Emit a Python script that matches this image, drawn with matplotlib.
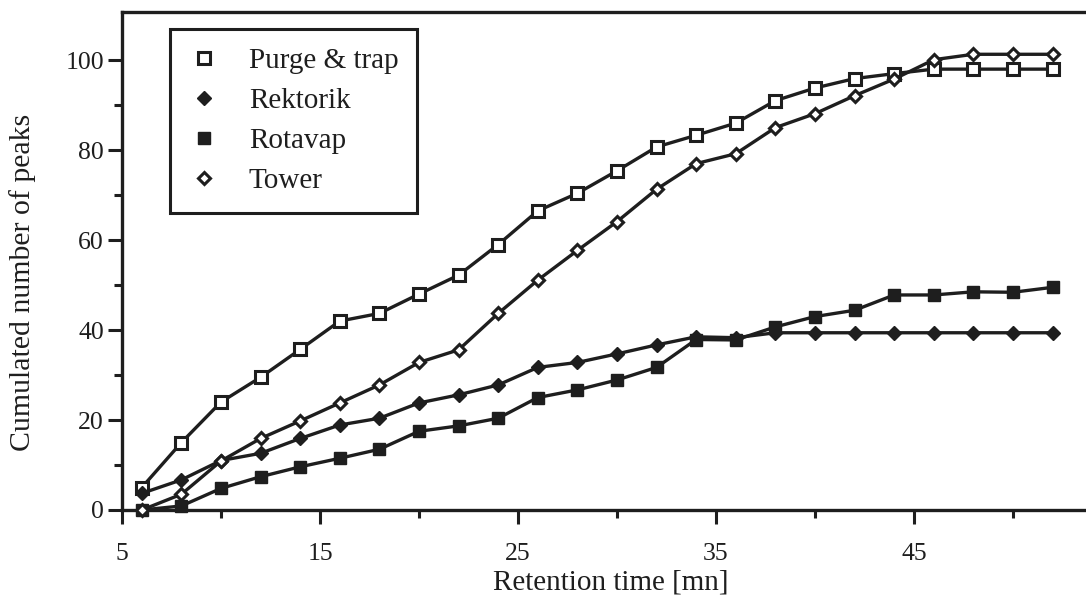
import matplotlib
matplotlib.use('Agg')
import matplotlib.pyplot as plt
from matplotlib.lines import Line2D
from matplotlib.ticker import FixedLocator

# retention time [mn]
times = [6, 8, 10, 12, 14, 16, 18, 20, 22, 24, 26, 28,
         30, 32, 34, 36, 38, 40, 42, 44, 46, 48, 50, 52]

purge_trap = [5, 15, 24, 29.5, 35.7, 42, 43.7, 48, 52.2, 59, 66.5, 70.4,
              75.4, 80.7, 83.3, 86, 91, 93.8, 95.9, 97, 98, 98, 98, 98]
rektorik = [3.7, 6.7, 11, 12.6, 15.9, 18.9, 20.4, 23.8, 25.6, 27.8, 31.7, 32.8,
            34.7, 36.7, 38.5, 38.3, 39.4, 39.4, 39.4, 39.4, 39.4, 39.4, 39.4, 39.4]
rotavap = [0, 0.9, 4.8, 7.4, 9.6, 11.5, 13.5, 17.5, 18.7, 20.4, 25, 26.7,
           28.9, 31.7, 37.9, 37.8, 40.7, 43, 44.4, 47.8, 47.8, 48.5, 48.4, 49.5]
tower = [0, 3.5, 10.9, 15.9, 19.8, 23.8, 27.8, 32.8, 35.6, 43.7, 51.1, 57.7,
         64.1, 71.3, 77, 79.2, 85, 88.1, 92.1, 95.8, 100.1, 101.3, 101.3, 101.3]

series_names = ['Purge & trap', 'Rektorik', 'Rotavap', 'Tower']

plt.rcParams['font.family'] = ['Liberation Serif', 'DejaVu Serif']
ink = '#1e1e1e'

W, H = 1086, 599
fig = plt.figure(figsize=(W / 100, H / 100), dpi=100)
# axes runs a bit past the right edge, like the cropped scan
left, right, bottom, top = 122, 1112, 510, 12
ax = fig.add_axes([left / W, (H - bottom) / H, (right - left) / W, (bottom - top) / H])

styles = [
    dict(marker='s', ms=8, mfc='white', mec=ink, mew=2.2),
    dict(marker='D', ms=7, mfc=ink, mec=ink, mew=1),
    dict(marker='s', ms=9, mfc=ink, mec=ink, mew=1),
    dict(marker='D', ms=6, mfc='white', mec=ink, mew=2.2),
]
data = [purge_trap, rektorik, rotavap, tower]

for vals, st in zip(data, styles):
    ax.plot(times, vals, color=ink, lw=2.4, clip_on=False, zorder=3, **st)

ax.set_xlim(5, 55)
ax.set_ylim(0, 110.7)

ax.set_xticks([5, 15, 25, 35, 45])
ax.xaxis.set_minor_locator(FixedLocator([10, 20, 30, 40, 50]))
ax.set_yticks([0, 20, 40, 60, 80, 100])
ax.yaxis.set_minor_locator(FixedLocator([10, 30, 50, 70, 90]))

ax.tick_params(axis='both', which='major', direction='out', length=10, width=2.2,
               colors=ink, labelsize=18.5)
ax.tick_params(axis='both', which='minor', direction='out', length=6, width=2.2, colors=ink)
ax.tick_params(axis='x', which='major', pad=14)
ax.tick_params(axis='y', which='major', pad=3)

for side in ['left', 'bottom', 'top']:
    ax.spines[side].set_linewidth(2.4)
    ax.spines[side].set_color(ink)
ax.spines['right'].set_visible(False)

ax.set_xlabel('Retention time [mn]', fontsize=21, color=ink)
ax.set_ylabel('Cumulated number of peaks', fontsize=21.5, color=ink)
ax.xaxis.set_label_coords((611 - left) / (right - left), -(583 - bottom) / (bottom - top))
ax.xaxis.label.set_va('center')
ax.yaxis.set_label_coords((23 - left) / (right - left), (bottom - 282) / (bottom - top))
ax.yaxis.label.set_va('center')
ax.yaxis.label.set_ha('center')

handles = [Line2D([], [], linestyle='none', **st) for st in styles]
leg = ax.legend(handles, series_names, loc='upper left',
                bbox_to_anchor=(170 / W, 1 - 29 / H), bbox_transform=fig.transFigure,
                fontsize=21, frameon=True, fancybox=False, framealpha=1,
                handlelength=1.0, handletextpad=1.05, labelspacing=0.46,
                borderpad=0.65, borderaxespad=0)
leg.get_frame().set_edgecolor(ink)
leg.get_frame().set_linewidth(2.2)
for t in leg.get_texts():
    t.set_color(ink)

fig.savefig('out.png', dpi=100)
